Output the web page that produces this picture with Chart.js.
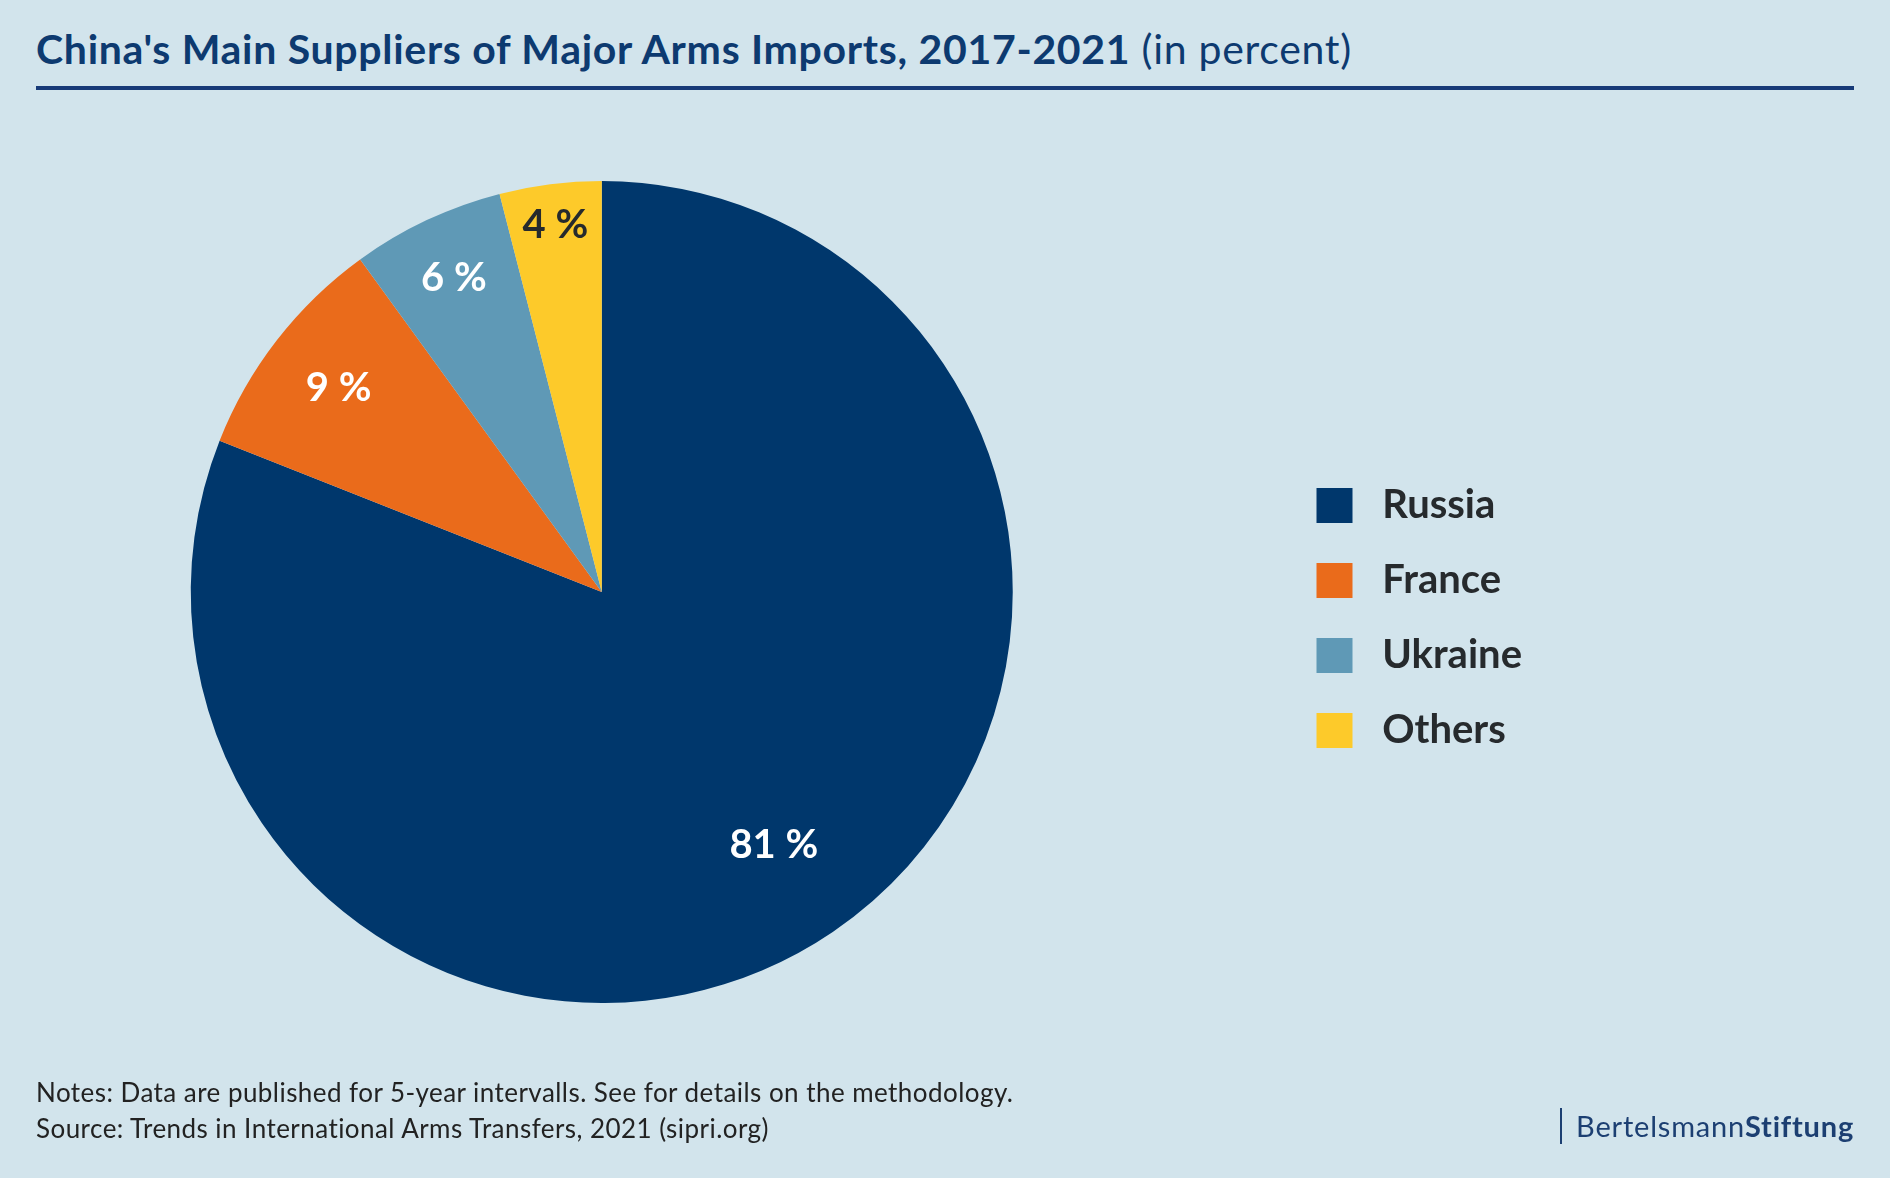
<!DOCTYPE html>
<html>
<head>
<meta charset="utf-8">
<script src="https://cdn.jsdelivr.net/npm/chart.js@4/dist/chart.umd.min.js"></script>
<style>
  html, body { margin: 0; padding: 0; }
  body {
    width: 1890px; height: 1182px; overflow: hidden;
    background: #d2e4ec; position: relative;
    font-family: Lato, "Noto Sans", sans-serif;
  }
  #title {
    position: absolute; left: 36px; top: 23px;
    font-size: 41px; letter-spacing: 0.7px; line-height: 52px; color: #0d3a70; white-space: nowrap;
  }
  #title b { font-weight: 700; }
  #rule {
    position: absolute; left: 36px; top: 86px; width: 1818px; height: 4px;
    background: #173a78;
  }
  /* canvas reaches 100px past the left edge so the pie can sit left of the legend's centre */
  #chart-wrap { position: absolute; left: -100px; top: 0; width: 1990px; height: 1182px; }
  .note {
    position: absolute; left: 36px; font-size: 26px; letter-spacing: 0.45px; color: #222;
    white-space: nowrap; line-height: 30px;
  }
  #logo {
    position: absolute; right: 36px; top: 1108px; height: 36px;
    border-left: 2px solid #1c3f72; padding-left: 14px;
    font-size: 29px; letter-spacing: 0.8px; line-height: 36px; color: #1c3f72; white-space: nowrap;
  }
  #bottom { position: absolute; left: 0; bottom: 0; width: 1890px; height: 4px; background: #fff; }
</style>
</head>
<body>
<div id="title"><b>China's Main Suppliers of Major Arms Imports, 2017-2021</b> (in percent)</div>
<div id="rule"></div>
<div id="chart-wrap"><canvas id="pieChart"></canvas></div>
<div class="note" style="top:1077px">Notes: Data are published for 5-year intervalls. See for details on the methodology.</div>
<div class="note" style="top:1113px">Source: Trends in International Arms Transfers, 2021 (sipri.org)</div>
<div id="logo">Bertelsmann<b>Stiftung</b></div>
<div id="bottom"></div>

<script>
// Data
const suppliers = ["Russia", "France", "Ukraine", "Others"];
const shares = [81, 9, 6, 4];
const sliceColors = ["#00376c", "#ea6b1b", "#5f99b6", "#fdca2a"];
const labelColors = ["#ffffff", "#ffffff", "#ffffff", "#262a2d"];
// how far out (share of radius) each percent label sits
const labelRadius = [0.745, 0.81, 0.845, 0.9];

// Percent labels inside the slices
const sliceLabels = {
  id: "sliceLabels",
  afterDatasetsDraw(chart) {
    const ctx = chart.ctx;
    const meta = chart.getDatasetMeta(0);
    ctx.save();
    ctx.font = "bold 40px Lato, 'Noto Sans', sans-serif";
    ctx.textAlign = "center";
    ctx.textBaseline = "middle";
    meta.data.forEach((arc, i) => {
      const p = arc.getProps(["x", "y", "startAngle", "endAngle", "outerRadius"], true);
      const mid = (p.startAngle + p.endAngle) / 2;
      const r = p.outerRadius * labelRadius[i];
      ctx.fillStyle = labelColors[i];
      ctx.fillText(shares[i] + " %", p.x + Math.cos(mid) * r, p.y + Math.sin(mid) * r);
    });
    ctx.restore();
  }
};

new Chart(document.getElementById("pieChart"), {
  type: "pie",
  data: {
    labels: suppliers,
    datasets: [{
      data: shares,
      backgroundColor: sliceColors,
      borderWidth: 0
    }]
  },
  options: {
    responsive: true,
    maintainAspectRatio: false,
    animation: false,
    radius: 411,
    layout: { padding: { left: 22, top: 100, bottom: 98, right: 358 } },
    plugins: {
      tooltip: { enabled: false },
      legend: {
        position: "right",
        title: { display: true, text: "", font: { size: 40 }, padding: 2 },
        labels: {
          boxWidth: 36,
          boxHeight: 35,
          padding: 35,
          color: "#262a2d",
          font: { family: "Lato, 'Noto Sans', sans-serif", size: 40, weight: "bold" },
          // a little more room between the swatch and the name
          generateLabels(chart) {
            const items = Chart.overrides.pie.plugins.legend.labels.generateLabels(chart);
            return items.map(item => ({ ...item, text: " " + item.text }));
          }
        }
      }
    }
  },
  plugins: [sliceLabels]
});
</script>
</body>
</html>
